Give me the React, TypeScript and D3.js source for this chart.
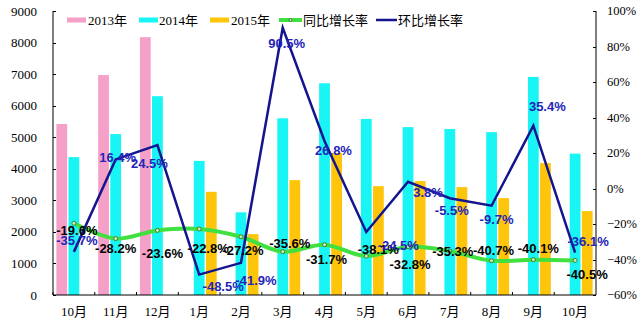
import React from "react";
import * as d3 from "d3";

const categories = ["10月", "11月", "12月", "1月", "2月", "3月", "4月", "5月", "6月", "7月", "8月", "9月", "10月"];
const seriesNames = ["2013年", "2014年", "2015年"];
const sales2013: (number | null)[] = [5420, 6970, 8170, null, null, null, null, null, null, null, null, null, null];
const sales2014: (number | null)[] = [4370, 5100, 6300, 4250, 2620, 5600, 6710, 5580, 5320, 5260, 5160, 6910, 4480];
const sales2015: (number | null)[] = [null, null, null, 3270, 1930, 3640, 4500, 3450, 3610, 3420, 3070, 4180, 2660];
const yoyRate = [-19.6, -28.2, -23.6, -22.8, -27.2, -35.6, -31.7, -38.1, -32.8, -35.3, -40.7, -40.1, -40.5];
const momRate = [-35.7, 16.4, 24.5, -48.5, -41.9, 90.5, 26.8, -24.5, 3.8, -5.5, -9.7, 35.4, -36.1];
const leftTicks = [0, 1000, 2000, 3000, 4000, 5000, 6000, 7000, 8000, 9000];
const rightTicks = [-60, -40, -20, 0, 20, 40, 60, 80, 100];
const lineNames = ["同比增长率", "环比增长率"];

// label offsets (layout only)
const yoyLabelDx = [3, 0, 5, 9, 2, 7, 2, 12, 2, 3, 2, 5, 12];
const yoyLabelDy = [7, 10, 23, 20, 14, -8, 15, -7, 18, 0, -10, -11, 14];
const momLabelDx = [3, 2, -8, 24, 15, 4, 9, 32, 20, 2, 5, 14, 13];
const momLabelDy = [-11, -2, 18, 12, 18, 16, 10, 14, 11, 12, 14, -19, -11];

const W = 640, H = 328;
const left = 53, right = 596, top = 11, bottom = 295;
const barColors = ["#F5A0C8", "#19F5F5", "#FFC50A"];
const green = "#3FE03F";
const navy = "#14148F";
const blueText = "#2424B8";
const serif = "'Liberation Serif', 'Times New Roman', 'Noto Sans CJK SC', serif";
const sans = "'Liberation Sans', Arial, sans-serif";

export default function App() {
  const x = d3.scaleBand<number>().domain(categories.map((_, i) => i)).range([left, right]).paddingInner(0).paddingOuter(0);
  const xi = d3.scaleBand<number>().domain([0, 1, 2]).range([0, x.bandwidth()]).paddingInner(0.11).paddingOuter(0.28);
  const yL = d3.scaleLinear().domain([0, 9000]).range([bottom, top]);
  const yR = d3.scaleLinear().domain([-60, 100]).range([bottom, top]);
  const cx = (i: number) => (x(i) as number) + x.bandwidth() / 2;
  const series = [sales2013, sales2014, sales2015];

  const greenLine = d3.line<number>().x((_, i) => cx(i)).y((d) => yR(d)).curve(d3.curveCatmullRom.alpha(0.5));
  const blueLine = d3.line<number>().x((_, i) => cx(i)).y((d) => yR(d));

  const fmt = (v: number) => v.toFixed(1) + "%";

  const legendBars = [
    { x: 67, tx: 88 },
    { x: 139, tx: 159 },
    { x: 210, tx: 231 },
  ];

  return (
    <svg width={W} height={H} style={{ position: "absolute", left: 0, top: 0, background: "#fff" }}>
      <rect width={W} height={H} fill="#fff" />
      {series.map((s, si) =>
        s.map((v, i) =>
          v == null ? null : (
            <rect key={`b${si}-${i}`} x={(x(i) as number) + (xi(si) as number)} y={yL(v)} width={xi.bandwidth()} height={bottom - yL(v)} fill={barColors[si]} />
          )
        )
      )}
      {/* axes */}
      <g stroke="#000" strokeWidth={1} fill="none">
        <line x1={left} y1={top} x2={left} y2={bottom} />
        <line x1={right} y1={top} x2={right} y2={bottom} />
        <line x1={left} y1={bottom} x2={right} y2={bottom} />
        {leftTicks.map((t) => (
          <line key={`lt${t}`} x1={left} x2={left + 3} y1={Math.round(yL(t)) + 0.5} y2={Math.round(yL(t)) + 0.5} />
        ))}
        {rightTicks.map((t) => (
          <line key={`rt${t}`} x1={right - 3} x2={right} y1={Math.round(yR(t)) + 0.5} y2={Math.round(yR(t)) + 0.5} />
        ))}
        {categories.map((_, i) => (
          <line key={`xt${i}`} x1={x(i) as number} x2={x(i) as number} y1={bottom - 3} y2={bottom} />
        ))}
      </g>
      {leftTicks.map((t) => (
        <text key={`ll${t}`} x={37} y={yL(t)} textAnchor="end" dominantBaseline="central" fontFamily={serif} fontSize={13} fill="#000">
          {t}
        </text>
      ))}
      {rightTicks.map((t) => (
        <text key={`rl${t}`} x={607} y={yR(t)} textAnchor="start" dominantBaseline="central" fontFamily={serif} fontSize={12.5} fill="#000">
          {t === 0 ? "0%" : (t < 0 ? "\u2212" + Math.abs(t) : t) + "%"}
        </text>
      ))}
      {categories.map((c, i) => (
        <text key={`xl${i}`} x={cx(i)} y={316} textAnchor="middle" fontFamily={serif} fontSize={13} fill="#000">
          {c}
        </text>
      ))}
      {/* lines */}
      <path d={greenLine(yoyRate) as string} fill="none" stroke={green} strokeWidth={4} strokeLinejoin="round" />
      {yoyRate.map((v, i) => (
        <circle key={`gm${i}`} cx={cx(i)} cy={yR(v)} r={2} fill="#BFEFBF" stroke="#2A6A2A" strokeWidth={0.8} />
      ))}
      <path d={blueLine(momRate) as string} fill="none" stroke={navy} strokeWidth={2.5} strokeLinejoin="miter" />
      {/* labels */}
      {yoyRate.map((v, i) => (
        <text key={`gl${i}`} x={cx(i) + yoyLabelDx[i]} y={yR(v) + yoyLabelDy[i]} textAnchor="middle" dominantBaseline="central" fontFamily={sans} fontWeight="bold" fontSize={13} fill="#000">
          {fmt(v)}
        </text>
      ))}
      {momRate.map((v, i) => (
        <text key={`ml${i}`} x={cx(i) + momLabelDx[i]} y={yR(v) + momLabelDy[i]} textAnchor="middle" dominantBaseline="central" fontFamily={sans} fontWeight="bold" fontSize={13} fill={blueText}>
          {fmt(v)}
        </text>
      ))}
      {/* legend */}
      {legendBars.map((l, i) => (
        <g key={`lg${i}`}>
          <rect x={l.x} y={17.5} width={19} height={5} fill={barColors[i]} />
          <text x={l.tx} y={20} dominantBaseline="central" fontFamily={serif} fontSize={13} fill="#000">
            {seriesNames[i]}
          </text>
        </g>
      ))}
      <line x1={279} x2={302} y1={20} y2={20} stroke={green} strokeWidth={4} />
      <circle cx={290.5} cy={20} r={1.5} fill="#BFEFBF" stroke="#2A6A2A" strokeWidth={0.8} />
      <text x={303} y={20} dominantBaseline="central" fontFamily={serif} fontSize={13} fill="#000">
        {lineNames[0]}
      </text>
      <line x1={376} x2={397} y1={20} y2={20} stroke={navy} strokeWidth={2.5} />
      <text x={398} y={20} dominantBaseline="central" fontFamily={serif} fontSize={13} fill="#000">
        {lineNames[1]}
      </text>
    </svg>
  );
}
